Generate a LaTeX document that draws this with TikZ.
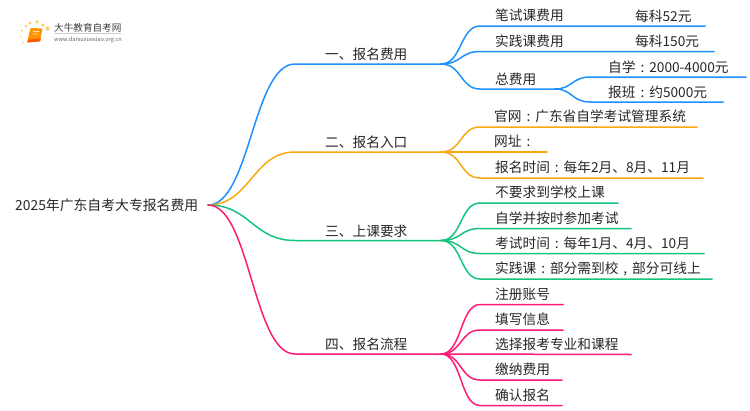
\documentclass[tikz,border=0pt]{standalone}
\usepackage{fontspec}
\setmainfont{Noto Sans CJK SC}
\definecolor{cblue}{HTML}{1E90FF}
\definecolor{corange}{HTML}{F7A90F}
\definecolor{cgreen}{HTML}{14C47C}
\definecolor{cpink}{HTML}{FF1A78}
\definecolor{ctext}{HTML}{262626}
\definecolor{cdot}{HTML}{FBD06F}
\newcommand{\cc}{\makebox[1em][c]{:}}
\newcommand{\cm}{\makebox[1em][c]{,}}
\tikzset{
  x=1pt,y=-1pt,
  lab/.style={anchor=base west,inner sep=0pt,text=ctext,font=\fontsize{13.7pt}{14pt}\selectfont},
  link/.style={line width=1.5pt,line cap=round},
}
\begin{document}
\begin{tikzpicture}
\useasboundingbox (0,0) rectangle (750,410);
% root
\node[lab] (root) at (15,210) {\fontsize{13.85pt}{14pt}\selectfont 2025年广东自考大专报名费用};
\coordinate (r0) at (208,205);
% branch ends
\coordinate (a0) at (295,64);  \coordinate (a1) at (441,64);
\coordinate (b0) at (295,152); \coordinate (b1) at (441,152);
\coordinate (c0) at (295,240.5); \coordinate (c1) at (441,240.5);
\coordinate (d0) at (295,354); \coordinate (d1) at (441,354);
\draw[link,cblue] (r0) .. controls (250,205) and (253,64) .. (a0) -- (a1);
\draw[link,corange] (r0) .. controls (250,205) and (253,152) .. (b0) -- (b1);
\draw[link,cgreen] (r0) .. controls (250,205) and (253,240.5) .. (c0) -- (c1);
\draw[link,cpink] (r0) .. controls (250,205) and (253,354) .. (d0) -- (d1);
\node[lab] (na) at (325,59) {一、报名费用};
\node[lab] (nb) at (325,147) {二、报名入口};
\node[lab] (nc) at (325,236) {三、上课要求};
\node[lab] (nd) at (325,349) {四、报名流程};
% leaves
\foreach \n/\c/\j/\y/\e/\tx/\t in {
  a1/cblue/a1/26/705/495/笔试课费用,
  a2/cblue/a1/51.5/714/495/实践课费用,
  b1/corange/b1/127/697/494/官网\cc 广东省自学考试管理系统,
  b3/corange/b1/178/703/495/报名时间\cc 每年2月、8月、11月,
  c1/cgreen/c1/203/618/495/不要求到学校上课,
  c2/cgreen/c1/228.5/631/495/自学并按时参加考试,
  c3/cgreen/c1/253.5/704/495/考试时间\cc 每年1月、4月、10月,
  c4/cgreen/c1/279/712/495/实践课\cc 部分需到校\cm 部分可线上,
  d1/cpink/d1/304.5/563/495/注册账号,
  d2/cpink/d1/330/563/495/填写信息,
  d4/cpink/d1/380/562/495/缴纳费用,
  d5/cpink/d1/405.5/562/495/确认报名}{
  \coordinate (s\n) at (480,\y);
  \coordinate (e\n) at (\e,\y);
  \draw[link,\c] (\j) .. controls (462,\ifdim\y pt<100pt 64\else\ifdim\y pt<190pt 152\else\ifdim\y pt<290pt 240.5\else 354\fi\fi\fi) and (460,\y) .. (s\n) -- (e\n);
  \node[lab] (t\n) at (\tx,\y-5.5) {\t};
}
% straight leaves
\coordinate (eb2) at (547,152);
\coordinate (ed3) at (631,354.5);
\draw[link,corange] (b1) -- (eb2);
\draw[link,cpink] (d1) -- (ed3);
\node[lab] (tb2) at (494,146.5) {网址\cc};
\node[lab] (td3) at (495,349) {选择报考专业和课程};
% 总费用
\coordinate (sa3) at (480,89);
\coordinate (j3) at (555,89);
\draw[link,cblue] (a1) .. controls (462,64) and (460,89) .. (sa3) -- (j3);
\node[lab] (ta3) at (495,84) {总费用};
\coordinate (s31) at (590,77);  \coordinate (e31) at (746,77);
\coordinate (s32) at (590,102); \coordinate (e32) at (723,102);
\draw[link,cblue] (j3) .. controls (572,89) and (572,77) .. (s31) -- (e31);
\draw[link,cblue] (j3) .. controls (572,89) and (572,102) .. (s32) -- (e32);
\node[lab] (t31) at (608,72) {自学\cc 2000-4000元};
\node[lab] (t32) at (608,97) {报班\cc 约5000元};
% values
\node[lab] (v1) at (635,21) {每科52元};
\node[lab] (v2) at (635,46.5) {每科150元};
% logo
\foreach \px/\py/\r in {21/37/0.9, 22/30.5/1.2, 26/26/1.5, 30/23/1.7, 37/22/1.9, 43/25/1.9, 47.5/28.5/2.2, 23/42.5/0.8}
  \fill[cdot] (\px,\py) circle[radius=\r];
\fill[orange!85!yellow,rounded corners=1pt] (30.5,28) -- (42.5,28.5) -- (40,41) -- (27,42.5) -- cycle;
\fill[orange!70!red,rounded corners=.5pt] (27,42.5) -- (40,41.5) -- (41,38.5) -- (29,39.5) -- cycle;
\fill[white,opacity=.7] (33,31) -- (39.5,31) -- (39.2,32) -- (32.8,32) -- cycle;
\fill[white,opacity=.7] (32.5,33.5) -- (38.5,33.5) -- (38.3,34.3) -- (32.3,34.3) -- cycle;
\node[anchor=base west,inner sep=0pt,text=black!75,font=\fontsize{9.6pt}{10pt}\selectfont] (logo) at (54,31) {大牛教育自考网};
\coordinate (l0) at (54,33.5); \coordinate (l1) at (121,33.5);
\draw[black!20,line width=.5pt] (l0) -- (l1);
\node[anchor=base west,inner sep=0pt,text=black!60,font=\fontsize{5.6pt}{6pt}\selectfont] (url) at (54,41) {www.daniuxuexiao.org.cn};
\end{tikzpicture}
\end{document}
